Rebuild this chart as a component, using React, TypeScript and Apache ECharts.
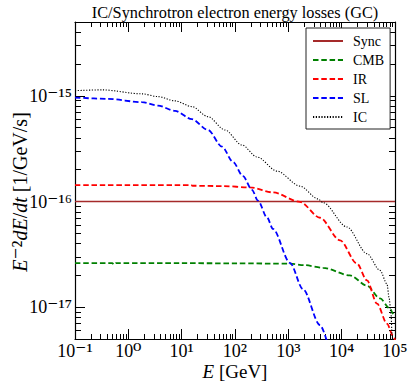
import React, { useEffect, useRef } from 'react';
import * as echarts from 'echarts';

const FONT = '"Liberation Serif", "DejaVu Serif", serif';

// Axis ranges (GeV, 1/GeV/s)
const X_MIN = 0.1;
const X_MAX = 1e5;
const Y_MIN = 5e-18;
const Y_MAX = 5e-15;

const TITLE = 'IC/Synchrotron electron energy losses (GC)';
const SERIES_NAMES = ['Sync', 'CMB', 'IR', 'SL', 'IC'];
const SERIES_COLORS = ['#a52a2a', '#008000', '#ff0000', '#0000ff', '#000000'];

// [E (GeV), E^-2 dE/dt]
const SYNC: [number, number][] = [
  [0.1, 1e-16],
  [1e5, 1e-16],
];

const CMB: [number, number][] = [
  [0.1, 2.61e-17],
  [0.5, 2.61e-17],
  [0.54, 2.53e-17],
  [0.58, 2.61e-17],
  [10, 2.61e-17],
  [100, 2.6e-17],
  [1074, 2.58e-17],
  [2000, 2.5e-17],
  [4467, 2.36e-17],
  [14322, 2.0e-17],
  [29854, 1.6e-17],
  [52360, 1.21e-17],
  [80538, 9.7e-18],
  [91833, 8.69e-18],
  [100000, 8.2e-18],
];

const IR: [number, number][] = [
  [0.1, 1.43e-16],
  [15, 1.43e-16],
  [16, 1.41e-16],
  [60, 1.4e-16],
  [191, 1.36e-16],
  [516, 1.22e-16],
  [1656, 9.91e-17],
  [3926, 7.02e-17],
  [9311, 4.29e-17],
  [19409, 2.58e-17],
  [29854, 1.79e-17],
  [46030, 1.08e-17],
  [70795, 6.98e-18],
  [91833, 5.37e-18],
  [100000, 4.9e-18],
];

const SL: [number, number][] = [
  [0.1, 9.64e-16],
  [0.416, 9.37e-16],
  [1.8, 8.71e-16],
  [3.6, 8.09e-16],
  [7.5, 7.21e-16],
  [15.6, 6.01e-16],
  [31.2, 4.75e-16],
  [57, 3.31e-16],
  [91.8, 2.37e-16],
  [141, 1.74e-16],
  [208, 1.29e-16],
  [270, 1.02e-16],
  [398, 7.08e-17],
  [516, 5.5e-17],
  [1074, 2.63e-17],
  [1884, 1.48e-17],
  [3926, 6.76e-18],
  [5623, 4.3e-18],
];

const IC: [number, number][] = [
  [0.1, 1.12e-15],
  [0.32, 1.14e-15],
  [1.8, 1.045e-15],
  [3.6, 9.84e-16],
  [7.5, 8.97e-16],
  [15.6, 7.91e-16],
  [31.2, 6.35e-16],
  [65, 4.75e-16],
  [135, 3.43e-16],
  [259, 2.64e-16],
  [614, 1.94e-16],
  [1656, 1.4e-16],
  [3597, 1.06e-16],
  [4467, 9.77e-17],
  [12589, 5.74e-17],
  [29854, 3.21e-17],
  [52360, 2.23e-17],
  [70795, 1.66e-17],
  [77268, 1.24e-17],
  [84140, 8.69e-18],
  [87902, 5.61e-18],
  [91201, 4.0e-18],
];

const SERIES_DATA = [SYNC, CMB, IR, SL, IC];
const SERIES_DASH: any[] = ['solid', [5.5, 2.8], [5.5, 2.8], [5.5, 2.8], [1.2, 1.6]];
const SERIES_WIDTH = [1.6, 1.8, 1.8, 1.8, 1.1];

// minor tick positions (log10 space, decorative axes)
const X_MINOR_LOG: number[] = [];
for (let n = -1; n <= 4; n++) for (let k = 2; k <= 9; k++) X_MINOR_LOG.push(n + Math.log10(k));
const Y_MINOR_LOG: number[] = [];
for (let n = -18; n <= -15; n++)
  for (let k = 2; k <= 9; k++) {
    const v = n + Math.log10(k);
    if (v > Math.log10(Y_MIN) + 1e-6 && v < Math.log10(Y_MAX) - 1e-6) Y_MINOR_LOG.push(v);
  }

const SUP: Record<string, string> = {
  '-': '\u207B', '0': '\u2070', '1': '\u00B9', '2': '\u00B2', '3': '\u00B3', '4': '\u2074',
  '5': '\u2075', '6': '\u2076', '7': '\u2077', '8': '\u2078', '9': '\u2079',
};
const sup = (s: string) => s.split('').map((c) => SUP[c] || c).join('');

const powLabel = (v: number) => {
  const l = Math.log10(v);
  const e = Math.round(l);
  if (Math.abs(l - e) > 1e-6) return '';
  return '{b|10}{s|' + sup(String(e)) + '}';
};

const LABEL_RICH = {
  b: { fontFamily: FONT, fontSize: 18, color: '#000' },
  s: { fontFamily: FONT, fontSize: 21, color: '#000' },
};

const AXIS_LINE = { show: true, onZero: false, lineStyle: { color: '#000', width: 1.2 } };
const NO_LINE = { show: false, onZero: false };

export default function App() {
  const ref = useRef<HTMLDivElement>(null);
  useEffect(() => {
    document.body.style.margin = '0';
    const chart = echarts.init(ref.current!, null, { renderer: 'svg' });
    const majorX = (pos: 'bottom' | 'top', labels: boolean) => ({
      type: 'log',
      logBase: 10,
      min: X_MIN,
      max: X_MAX,
      position: pos,
      gridIndex: 0,
      axisLine: AXIS_LINE,
      axisTick: { show: true, inside: true, length: 10, lineStyle: { color: '#000', width: 1 } },
      axisLabel: labels
        ? { show: true, formatter: powLabel, margin: 1, fontFamily: FONT, fontSize: 18, color: '#000', rich: LABEL_RICH }
        : { show: false },
      splitLine: { show: false },
      minorTick: { show: false },
    });
    const minorX = (pos: 'bottom' | 'top') => ({
      type: 'value',
      min: Math.log10(X_MIN),
      max: Math.log10(X_MAX),
      position: pos,
      gridIndex: 0,
      axisLine: NO_LINE,
      axisTick: { show: true, inside: true, length: 5, customValues: X_MINOR_LOG, lineStyle: { color: '#000', width: 1 } },
      axisLabel: { show: false },
      splitLine: { show: false },
    });
    const majorY = (pos: 'left' | 'right', labels: boolean) => ({
      type: 'log',
      logBase: 10,
      min: Y_MIN,
      max: Y_MAX,
      position: pos,
      gridIndex: 0,
      axisLine: AXIS_LINE,
      axisTick: { show: true, inside: true, length: 10, lineStyle: { color: '#000', width: 1 } },
      axisLabel: labels
        ? { show: true, formatter: powLabel, margin: 3, fontFamily: FONT, fontSize: 18, color: '#000', rich: LABEL_RICH }
        : { show: false },
      splitLine: { show: false },
      minorTick: { show: false },
    });
    const minorY = (pos: 'left' | 'right') => ({
      type: 'value',
      min: Math.log10(Y_MIN),
      max: Math.log10(Y_MAX),
      position: pos,
      gridIndex: 0,
      axisLine: NO_LINE,
      axisTick: { show: true, inside: true, length: 6, customValues: Y_MINOR_LOG, lineStyle: { color: '#000', width: 1 } },
      axisLabel: { show: false },
      splitLine: { show: false },
    });

    chart.setOption({
      animation: false,
      backgroundColor: '#fff',
      grid: { left: 75, right: 18, top: 22, bottom: 51, containLabel: false, outerBoundsMode: 'none' },
      xAxis: [majorX('bottom', true), minorX('bottom'), majorX('top', false), minorX('top')],
      yAxis: [majorY('left', true), minorY('left'), majorY('right', false), minorY('right')],
      legend: {
        data: SERIES_NAMES,
        orient: 'vertical',
        left: 306,
        top: 28,
        padding: [6, 6, 5, 6],
        itemGap: 5,
        itemWidth: 30,
        itemHeight: 14,
        backgroundColor: '#fff',
        borderColor: '#222',
        borderWidth: 1,
        borderRadius: 0,
        itemStyle: { opacity: 0 },
        textStyle: { fontFamily: FONT, fontSize: 14, color: '#000', padding: [0, 0, 0, 5] },
      },
      series: SERIES_NAMES.map((name, i) => ({
        type: 'line',
        name,
        data: SERIES_DATA[i],
        xAxisIndex: 0,
        yAxisIndex: 0,
        symbol: 'none',
        showSymbol: false,
        smooth: i === 0 ? false : 0.3,
        smoothMonotone: 'x',
        clip: true,
        lineStyle: { color: SERIES_COLORS[i], width: SERIES_WIDTH[i], type: SERIES_DASH[i] },
        itemStyle: { color: SERIES_COLORS[i] },
      })),
      graphic: [
        {
          type: 'text',
          x: 235,
          y: 12,
          style: { text: TITLE, font: `16.3px ${FONT}`, fill: '#000', align: 'center', verticalAlign: 'middle' },
        },
        {
          type: 'text',
          x: 235,
          y: 371,
          style: {
            text: '{i|E} [GeV]',
            font: `19px ${FONT}`,
            fill: '#000',
            align: 'center',
            verticalAlign: 'middle',
            rich: { i: { fontFamily: FONT, fontSize: 19, fontStyle: 'italic', fill: '#000' } },
          },
        },
        {
          type: 'text',
          x: 20,
          y: 192,
          rotation: Math.PI / 2,
          style: {
            text: '{i|E}{s|' + sup('-2') + '}{i|dE}/{i|dt} [1/GeV/s]',
            font: `20px ${FONT}`,
            fill: '#000',
            align: 'center',
            verticalAlign: 'middle',
            rich: {
              i: { fontFamily: FONT, fontSize: 20, fontStyle: 'italic', fill: '#000' },
              s: { fontFamily: FONT, fontSize: 23, fill: '#000' },
            },
          },
        },
      ],
    });
    return () => chart.dispose();
  }, []);
  return <div ref={ref} style={{ position: 'fixed', left: 0, top: 0, width: 413, height: 390 }} />;
}
